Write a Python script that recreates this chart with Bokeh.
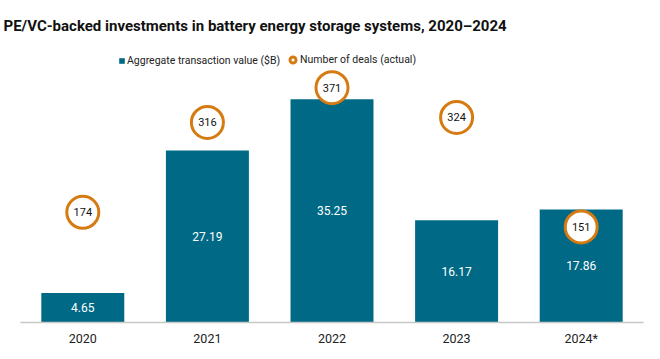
from bokeh.plotting import figure
from bokeh.models import ColumnDataSource, Range1d, LabelSet, Legend, LegendItem
from bokeh.core.properties import value
from bokeh.embed import file_html
from bokeh.resources import INLINE

# ---- data ----
years = ["2020", "2021", "2022", "2023", "2024*"]
agg_value = [4.65, 27.19, 35.25, 16.17, 17.86]
deals = [174, 316, 371, 324, 151]

value_labels = [f"{v:.2f}" for v in agg_value]
deal_labels = [str(d) for d in deals]
mid_value = [v / 2 for v in agg_value]

FONT = "Roboto"
TEAL = "#006a86"
ORANGE = "#d67a12"

TOP = 40
FRAME_W = 623
FRAME_H = 282
Y_END = FRAME_H / 6.33

src = ColumnDataSource(dict(year=years, val=agg_value, mid=mid_value, vlab=value_labels,
                            deals=deals, dlab=deal_labels))

p = figure(x_range=years, y_range=Range1d(0, Y_END),
           frame_width=FRAME_W, frame_height=FRAME_H,
           min_border_left=20, min_border_right=1, min_border_top=TOP, min_border_bottom=10,
           output_backend="svg", toolbar_location=None, y_axis_location=None,
           title="PE/VC-backed investments in battery energy storage systems, 2020\u20132024")
p.extra_y_ranges = {"deals": Range1d(0, Y_END * 10)}

p.title.align = "left"
p.title.offset = -17
p.title.vertical_align = "middle"
p.title.text_font = FONT
p.title.text_font_size = "15px"
p.title.text_font_style = "bold"
p.title.text_color = "#111111"

bars = p.vbar(x="year", top="val", width=0.666, source=src, fill_color=TEAL, line_color=None)
circ = p.scatter(x="year", y="deals", source=src, y_range_name="deals", marker="circle",
                 size=32, fill_color="white", line_color=ORANGE, line_width=3)

p.add_layout(LabelSet(x="year", y="mid", text="vlab", source=src, text_color="white",
                      text_font=value(FONT), text_font_size=value("12px"), text_align="center",
                      text_baseline="middle"))
p.add_layout(LabelSet(x="year", y="deals", text="dlab", source=src, y_range_name="deals",
                      text_color="#111111", text_font=value(FONT), text_font_size=value("11px"),
                      text_align="center", text_baseline="middle"))

# legends
common = dict(orientation="horizontal", padding=0, margin=0, border_line_alpha=0,
              background_fill_alpha=0, label_text_font=FONT, label_text_font_size="10.5px",
              label_text_color="#222222", spacing=0)
leg1 = Legend(items=[LegendItem(label="Aggregate transaction value ($B)", renderers=[bars], index=0)],
              location=(98, 255), glyph_width=7, glyph_height=7, label_standoff=2, **common)
leg2 = Legend(items=[LegendItem(label="Number of deals (actual)", renderers=[circ], index=0)],
              location=(265, 255), glyph_width=15, glyph_height=15, label_standoff=0, **common)
p.add_layout(leg1)
p.add_layout(leg2)

p.xgrid.grid_line_color = None
p.ygrid.grid_line_color = None
p.outline_line_color = None
p.background_fill_color = "white"
p.border_fill_color = "white"

ax = p.xaxis[0]
ax.axis_line_color = "#c8c8c8"
ax.axis_line_width = 1.5
ax.major_tick_line_color = None
ax.major_tick_out = 0
ax.major_tick_in = 0
ax.minor_tick_line_color = None
ax.major_label_standoff = 8
ax.major_label_text_font = FONT
ax.major_label_text_font_size = "12.5px"
ax.major_label_text_color = "#222222"
p.x_range.range_padding = 0

open("out.html", "w").write(file_html(p, INLINE))
